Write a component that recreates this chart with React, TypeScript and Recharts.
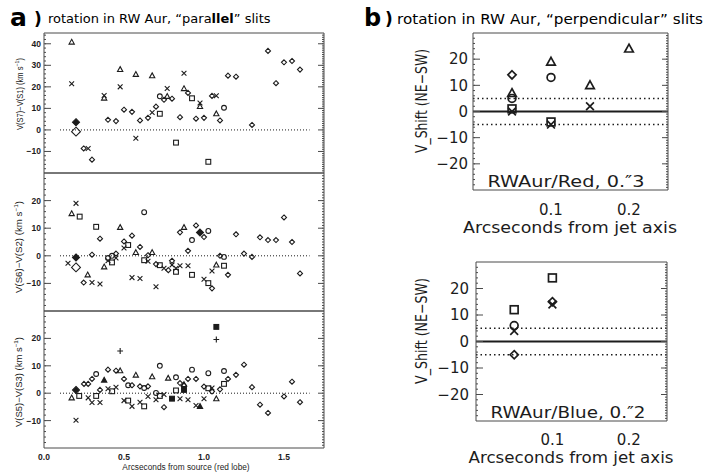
import React from 'react';
import { ScatterChart, Scatter, XAxis, YAxis, ReferenceLine } from 'recharts';

type Pt = [number, number];
type Kind = 'diamond' | 'triangle' | 'circle' | 'square' | 'cross' | 'plus' | 'diamondFill' | 'diamondBig' | 'triangleFill' | 'squareFill';

// ---- panel a, top: V(S7)-V(S1)
const p1Diamond: Pt[] = [[0.248, -8.6], [0.3, -13.8], [0.4, 4.7], [0.45, 4.1], [0.5, 9.4], [0.55, 8.4], [0.6, 4.4], [0.65, 5.6], [0.7, 10.8], [0.75, 14], [0.8, 14.5], [0.85, 5.9], [0.9, 17.2], [0.95, 5.2], [1.0, 5.6], [1.05, 15.8], [1.1, 4.4], [1.15, 25.2], [1.2, 24.7], [1.3, 2.3], [1.4, 36.7], [1.45, 21.7], [1.5, 31.4], [1.55, 32], [1.6, 28]];
const p1Triangle: Pt[] = [[0.173, 40.8], [0.376, 14.8], [0.476, 28.1], [0.574, 25.8], [0.676, 25.2], [0.77, 15.6], [0.875, 19.2], [0.975, 10.9], [1.077, 7.5]];
const p1Cross: Pt[] = [[0.173, 21.4], [0.276, -8.6], [0.376, 16], [0.476, 20], [0.574, -3.9], [0.676, 8.1], [0.77, 19.2], [0.875, 26.3], [0.975, 12.5], [1.077, 15.9]];
const p1Circle: Pt[] = [[0.724, 15.6], [1.125, 10.3]];
const p1Square: Pt[] = [[0.724, 7.5], [0.825, -5.9], [0.925, 14.7], [1.027, -14.8]];
const p1DiamondFill: Pt[] = [[0.2, 3.6]];
const p1DiamondBig: Pt[] = [[0.2, -0.8]];

// ---- panel a, middle: V(S6)-V(S2)
const p2Diamond: Pt[] = [[0.248, -9.7], [0.3, 0.4], [0.35, 6.2], [0.45, 0.8], [0.5, 5.2], [0.55, 7.3], [0.6, 3.2], [0.65, 0.2], [0.7, -3], [0.777, -5.2], [0.8, -1.8], [0.85, 8.5], [0.9, 1.8], [0.95, 11], [1.0, 6.8], [1.05, -11.8], [1.1, 0], [1.15, -6.9], [1.2, 7.8], [1.25, 0.8], [1.3, -0.4], [1.35, 6.7], [1.4, 5.7], [1.45, 5.7], [1.5, 13.9], [1.55, 5], [1.6, -6.4]];
const p2Triangle: Pt[] = [[0.173, 15.3], [0.273, -6.9], [0.376, -4], [0.476, 10.3], [0.574, 1.2], [0.676, 1.2], [0.875, 10.3], [1.077, -3.3]];
const p2Cross: Pt[] = [[0.15, -2.7], [0.2, 19], [0.3, -9.7], [0.35, -10.2], [0.4, -1.8], [0.45, -0.8], [0.5, 2.8], [0.55, -7.9], [0.6, -8.2], [0.65, -2], [0.7, -11.2], [0.75, -4.5], [0.8, -3.3], [0.825, -4.5], [0.85, -3.6], [0.9, -3.6], [1.0, -8.5], [1.05, -5.5]];
const p2Circle: Pt[] = [[0.4, -0.8], [0.425, 0], [0.626, 15.8], [0.925, 5.7], [1.027, 9], [1.125, -0.4]];
const p2Square: Pt[] = [[0.223, 14.2], [0.326, 10.5], [0.425, -2.4], [0.526, 3.9], [0.626, -1.6], [0.724, -3.4], [0.825, -5.8], [0.925, -6.9], [1.027, -9.9], [1.125, -3.6]];
const p2DiamondFill: Pt[] = [[0.2, -0.6], [0.975, 8.4]];
const p2DiamondBig: Pt[] = [[0.2, -4.2]];

// ---- panel a, bottom: V(S5)-V(S3)
const p3Diamond: Pt[] = [[0.25, 3.4], [0.276, 3.4], [0.3, 5.2], [0.35, 1.2], [0.4, 8.6], [0.45, 8.2], [0.5, 5.2], [0.55, 2.9], [0.6, 2.5], [0.65, 2.5], [0.75, -5.1], [0.85, 3.7], [0.875, 2.8], [0.9, 5.2], [0.95, 5.2], [1.0, 2.4], [1.05, 0.6], [1.1, 1.4], [1.15, 5.2], [1.2, 6.7], [1.25, 10.4], [1.3, 2.2], [1.35, -4.2], [1.4, -7.2], [1.5, -1.2], [1.55, 4.2], [1.6, -3.3]];
const p3Triangle: Pt[] = [[0.173, -1.7], [0.476, 8.2], [0.574, 6.6], [0.676, 6], [0.776, 5.5], [0.875, 3.2], [1.077, -2]];
const p3Cross: Pt[] = [[0.2, -9.9], [0.276, -1.7], [0.3, -3.4], [0.35, -3.4], [0.4, 1.6], [0.45, 2.2], [0.5, -2.7], [0.55, -4.8], [0.6, -3.3], [0.65, -1.2], [0.7, -2.4], [0.75, -0.5], [0.85, -2], [0.9, -2.4], [0.95, -4.5], [1.0, -2], [1.05, 1.9]];
const p3Circle: Pt[] = [[0.326, 7], [0.526, 2.9], [0.626, 1.9], [0.7, 0.1], [0.724, 10], [0.825, 5.8], [0.925, 8.6], [1.027, 7.3], [1.125, 8.1]];
const p3Square: Pt[] = [[0.22, -1], [0.326, -1], [0.426, 0.7], [0.526, -2.7], [0.626, -4.8], [0.724, -1], [0.825, 1], [1.027, 1.8], [1.125, 3.4]];
const p3Plus: Pt[] = [[0.476, 15.4], [1.077, 19.6]];
const p3DiamondFill: Pt[] = [[0.2, 1.2]];
const p3TriangleFill: Pt[] = [[0.376, 4.8], [0.975, -4.8]];
const p3SquareFill: Pt[] = [[0.8, -2], [0.875, 1.2], [1.077, 24.2]];

// ---- panel b, RWAur/Red
const redDiamond: Pt[] = [[0.05, 14]];
const redTriangle: Pt[] = [[0.05, 7], [0.1, 19], [0.15, 10], [0.2, 24]];
const redCircle: Pt[] = [[0.05, 5], [0.1, 13]];
const redSquare: Pt[] = [[0.05, 1], [0.1, -4]];
const redCross: Pt[] = [[0.05, 0], [0.1, -5], [0.15, 2]];

// ---- panel b, RWAur/Blue
const blueSquare: Pt[] = [[0.05, 12], [0.1, 24]];
const blueCircle: Pt[] = [[0.05, 6]];
const blueCross: Pt[] = [[0.05, 4], [0.1, 14]];
const blueDiamond: Pt[] = [[0.05, -5], [0.1, 15]];

// axis ranges / reference levels
const leftX: [number, number] = [0, 1.75];
const leftXLabels = [0, 0.5, 1.0, 1.5];
const p1Y: [number, number] = [-20, 45];
const p1YLabels = [-10, 0, 10, 20, 30, 40];
const p23Y: [number, number] = [-20, 30];
const p23YLabels = [-10, 0, 10, 20];
const zeroLineFrom = 0.1;
const zeroLineTo = 1.66;

const rightX: [number, number] = [0, 0.25];
const rightXLabels = [0.1, 0.2];
const rightY: [number, number] = [-30, 30];
const rightYLabels = [-20, -10, 0, 10, 20];
const noiseLevel = 5;

const INK = '#1c1c1c';
const FRAME = '#4a4a4a';
const LEFT_FONT = '"Liberation Sans", Arial, sans-serif';
const RIGHT_FONT = '"DejaVu Sans", sans-serif';

const range = (a: number, b: number, step: number) => {
  const out: number[] = [];
  for (let v = a; v <= b + 1e-9; v += step) out.push(+v.toFixed(4));
  return out;
};

const minus = (v: number) => (v < 0 ? `\u2212${-v}` : `${v}`);
const noLabel = () => <g />;

function marker(kind: Kind, cx: number, cy: number, r: number, sw: number) {
  const base = { stroke: INK, strokeWidth: sw, fill: 'none' };
  switch (kind) {
    case 'diamond':
    case 'diamondFill':
    case 'diamondBig': {
      const rr = kind === 'diamond' ? r * 1.05 : kind === 'diamondFill' ? r * 1.45 : r * 1.85;
      return (
        <path
          d={`M${cx} ${cy - rr}L${cx + rr} ${cy}L${cx} ${cy + rr}L${cx - rr} ${cy}Z`}
          {...base}
          fill={kind === 'diamondFill' ? INK : 'none'}
        />
      );
    }
    case 'triangle':
    case 'triangleFill':
      return (
        <path
          d={`M${cx} ${cy - r * 1.15}L${cx + r * 1.1} ${cy + r * 0.85}L${cx - r * 1.1} ${cy + r * 0.85}Z`}
          {...base}
          fill={kind === 'triangleFill' ? INK : 'none'}
        />
      );
    case 'circle':
      return <circle cx={cx} cy={cy} r={r} {...base} />;
    case 'square':
    case 'squareFill':
      return <rect x={cx - r} y={cy - r} width={2 * r} height={2 * r} {...base} fill={kind === 'squareFill' ? INK : 'none'} />;
    case 'cross':
      return <path d={`M${cx - r} ${cy - r}L${cx + r} ${cy + r}M${cx - r} ${cy + r}L${cx + r} ${cy - r}`} {...base} />;
    case 'plus':
      return <path d={`M${cx - r * 1.2} ${cy}L${cx + r * 1.2} ${cy}M${cx} ${cy - r * 1.2}L${cx} ${cy + r * 1.2}`} {...base} />;
  }
  return null;
}

interface RefSpec {
  y: number;
  from?: number;
  to?: number;
  dash?: string;
  width: number;
}

interface PanelProps {
  width: number;
  height: number;
  margin: { top: number; right: number; bottom: number; left: number };
  xDomain: [number, number];
  yDomain: [number, number];
  xLabels: number[] | null;
  yLabels: number[];
  xMinor: number[];
  xMajor: number[];
  xTop: number[];
  yMinor: number[];
  yMajor: number[];
  yRight: number[];
  yAxisWidth: number;
  xAxisHeight: number;
  xTickMargin: number;
  yTickMargin: number;
  tickFont: React.CSSProperties & { fontSize: number };
  r: number;
  sw: number;
  series: { kind: Kind; data: Pt[] }[];
  refs: RefSpec[];
}

function Panel(p: PanelProps) {
  const num = { type: 'number' as const, allowDataOverflow: true, interval: 0 as const };
  const line = { stroke: FRAME, strokeWidth: 1 };
  const tickStyle = { ...p.tickFont, fill: INK };
  return (
    <ScatterChart width={p.width} height={p.height} margin={p.margin}>
      <XAxis
        xAxisId="x"
        dataKey="x"
        {...num}
        domain={p.xDomain}
        ticks={p.xLabels ?? []}
        hide={!p.xLabels}
        height={p.xAxisHeight}
        tick={tickStyle}
        tickSize={0}
        tickMargin={p.xTickMargin}
        tickLine={false}
        axisLine={false}
        tickFormatter={(v: number) => v.toFixed(1)}
      />
      <XAxis xAxisId="xb" {...num} domain={p.xDomain} orientation="bottom" mirror height={1} ticks={p.xMinor} tick={noLabel} tickSize={3} axisLine={line} tickLine={line} />
      <XAxis xAxisId="xbM" {...num} domain={p.xDomain} orientation="bottom" mirror height={1} ticks={p.xMajor} tick={noLabel} tickSize={6} axisLine={false} tickLine={line} />
      <XAxis xAxisId="xt" {...num} domain={p.xDomain} orientation="top" mirror height={1} ticks={p.xTop} tick={noLabel} tickSize={3} axisLine={line} tickLine={line} />
      <YAxis
        yAxisId="y"
        dataKey="y"
        {...num}
        domain={p.yDomain}
        ticks={p.yLabels}
        width={p.yAxisWidth}
        tick={tickStyle}
        tickSize={0}
        tickMargin={p.yTickMargin}
        tickLine={false}
        axisLine={false}
        tickFormatter={minus}
      />
      <YAxis yAxisId="yl" {...num} domain={p.yDomain} orientation="left" mirror width={1} ticks={p.yMinor} tick={noLabel} tickSize={2} axisLine={line} tickLine={line} />
      <YAxis yAxisId="ylM" {...num} domain={p.yDomain} orientation="left" mirror width={1} ticks={p.yMajor} tick={noLabel} tickSize={6} axisLine={false} tickLine={line} />
      <YAxis yAxisId="yr" {...num} domain={p.yDomain} orientation="right" mirror width={1} ticks={p.yRight} tick={noLabel} tickSize={2} axisLine={line} tickLine={line} />
      <YAxis yAxisId="yrM" {...num} domain={p.yDomain} orientation="right" mirror width={1} ticks={p.yMajor} tick={noLabel} tickSize={5} axisLine={false} tickLine={line} />
      {p.refs.map((rf, i) =>
        rf.from !== undefined && rf.to !== undefined ? (
          <ReferenceLine
            key={`r${i}`}
            xAxisId="x"
            yAxisId="y"
            segment={[{ x: rf.from, y: rf.y }, { x: rf.to, y: rf.y }]}
            stroke={INK}
            strokeWidth={rf.width}
            strokeDasharray={rf.dash}
          />
        ) : (
          <ReferenceLine key={`r${i}`} xAxisId="x" yAxisId="y" y={rf.y} stroke={INK} strokeWidth={rf.width} strokeDasharray={rf.dash} />
        )
      )}
      {p.series.map((s, i) => (
        <Scatter
          key={`s${i}`}
          xAxisId="x"
          yAxisId="y"
          data={s.data.map(([x, y]) => ({ x, y }))}
          isAnimationActive={false}
          shape={(sp: any) => marker(s.kind, sp.cx, sp.cy, p.r, p.sw)}
        />
      ))}
    </ScatterChart>
  );
}

const leftCommon = {
  width: 340,
  margin: { top: 7, right: 16, bottom: 7, left: 0 },
  xDomain: leftX,
  xMinor: range(0.1, 1.7, 0.1),
  xMajor: [0.5, 1.0, 1.5],
  xTop: range(0.1, 1.7, 0.1),
  yAxisWidth: 44,
  xAxisHeight: 27,
  xTickMargin: 6,
  yTickMargin: 3,
  tickFont: { fontSize: 8.5, fontFamily: LEFT_FONT, fontWeight: 700 },
  r: 2.4,
  sw: 1.1,
};

const rightCommon = {
  width: 290,
  xDomain: rightX,
  yDomain: rightY,
  xLabels: rightXLabels,
  yLabels: rightYLabels,
  xMinor: range(0.01, 0.24, 0.01),
  xMajor: [0.1, 0.2],
  xTop: range(0.005, 0.245, 0.005),
  yMinor: range(-28, 28, 2),
  yMajor: range(-20, 20, 10),
  yRight: range(-29, 29, 1),
  xAxisHeight: 30,
  tickFont: { fontSize: 15, fontFamily: RIGHT_FONT },
  r: 3.9,
  sw: 1.7,
  refs: [
    { y: 0, width: 2 },
    { y: noiseLevel, width: 1.5, dash: '1.5 3' },
    { y: -noiseLevel, width: 1.5, dash: '1.5 3' },
  ],
};

const leftRefs: RefSpec[] = [{ y: 0, from: zeroLineFrom, to: zeroLineTo, width: 1, dash: '1 2' }];

const abs = (left: number, top: number): React.CSSProperties => ({ position: 'absolute', left, top });

function VLabel({ x, y, len, size, children }: { x: number; y: number; len: number; size: number; children: React.ReactNode }) {
  return (
    <text
      x={x}
      y={y}
      transform={`rotate(-90 ${x} ${y})`}
      textAnchor="middle"
      dominantBaseline="central"
      fontSize={size}
      fontFamily={LEFT_FONT}
      fill={INK}
      textLength={len}
      lengthAdjust="spacingAndGlyphs"
    >
      {children}
    </text>
  );
}

export default function App() {
  return (
    <div style={{ position: 'absolute', left: 0, top: 0, width: 706, height: 475, background: '#fff', overflow: 'hidden' }}>
      <div style={abs(0, 0)}>
        <Panel
          {...leftCommon}
          height={180}
          margin={{ top: 33, right: 16, bottom: 7, left: 0 }}
          yDomain={p1Y}
          xLabels={null}
          yLabels={p1YLabels}
          yMinor={range(-18, 44, 2)}
          yMajor={range(-10, 40, 10)}
          yRight={range(-19, 44, 1)}
          refs={leftRefs}
          series={[
            { kind: 'diamond', data: p1Diamond },
            { kind: 'triangle', data: p1Triangle },
            { kind: 'cross', data: p1Cross },
            { kind: 'circle', data: p1Circle },
            { kind: 'square', data: p1Square },
            { kind: 'diamondFill', data: p1DiamondFill },
            { kind: 'diamondBig', data: p1DiamondBig },
          ]}
        />
      </div>
      <div style={abs(0, 166)}>
        <Panel
          {...leftCommon}
          height={152}
          yDomain={p23Y}
          xLabels={null}
          yLabels={p23YLabels}
          yMinor={range(-18, 28, 2)}
          yMajor={range(-10, 20, 10)}
          yRight={range(-19, 29, 1)}
          refs={leftRefs}
          series={[
            { kind: 'diamond', data: p2Diamond },
            { kind: 'triangle', data: p2Triangle },
            { kind: 'cross', data: p2Cross },
            { kind: 'circle', data: p2Circle },
            { kind: 'square', data: p2Square },
            { kind: 'diamondFill', data: p2DiamondFill },
            { kind: 'diamondBig', data: p2DiamondBig },
          ]}
        />
      </div>
      <div style={abs(0, 304)}>
        <Panel
          {...leftCommon}
          height={171}
          margin={{ top: 7, right: 16, bottom: 0, left: 0 }}
          yDomain={p23Y}
          xLabels={leftXLabels}
          yLabels={p23YLabels}
          yMinor={range(-18, 28, 2)}
          yMajor={range(-10, 20, 10)}
          yRight={range(-19, 29, 1)}
          refs={leftRefs}
          series={[
            { kind: 'diamond', data: p3Diamond },
            { kind: 'triangle', data: p3Triangle },
            { kind: 'cross', data: p3Cross },
            { kind: 'circle', data: p3Circle },
            { kind: 'square', data: p3Square },
            { kind: 'plus', data: p3Plus },
            { kind: 'diamondFill', data: p3DiamondFill },
            { kind: 'triangleFill', data: p3TriangleFill },
            { kind: 'squareFill', data: p3SquareFill },
          ]}
        />
      </div>
      <div style={abs(400, 20)}>
        <Panel
          {...rightCommon}
          height={200}
          margin={{ top: 13, right: 22, bottom: 0, left: 0 }}
          yAxisWidth={73}
          xTickMargin={14}
          yTickMargin={5}
          series={[
            { kind: 'diamond', data: redDiamond },
            { kind: 'triangle', data: redTriangle },
            { kind: 'circle', data: redCircle },
            { kind: 'square', data: redSquare },
            { kind: 'cross', data: redCross },
          ]}
        />
      </div>
      <div style={abs(400, 250)}>
        <Panel
          {...rightCommon}
          height={201}
          margin={{ top: 12, right: 23, bottom: 0, left: 0 }}
          yAxisWidth={76}
          xTickMargin={13}
          yTickMargin={7}
          series={[
            { kind: 'square', data: blueSquare },
            { kind: 'circle', data: blueCircle },
            { kind: 'cross', data: blueCross },
            { kind: 'diamond', data: blueDiamond },
          ]}
        />
      </div>

      <svg width={706} height={475} style={{ position: 'absolute', left: 0, top: 0, pointerEvents: 'none' }}>
        {/* titles */}
        <text x={10} y={26} fontSize={25} fontWeight={700} fontFamily={RIGHT_FONT} fill="#000">a</text>
        <text x={34} y={25} fontSize={17} fontWeight={700} fontFamily={RIGHT_FONT} fill="#000">)</text>
        <text x={48} y={23} fontSize={13} fontFamily={RIGHT_FONT} fill="#000">
          rotation in RW Aur, {'\u201C'}para<tspan fontWeight={700}>llel</tspan>{'\u201D'} slits
        </text>
        <text x={364} y={26} fontSize={24} fontWeight={700} fontFamily={RIGHT_FONT} fill="#000">b</text>
        <text x={385} y={25} fontSize={17} fontWeight={700} fontFamily={RIGHT_FONT} fill="#000">)</text>
        <text x={397} y={24} fontSize={13.5} fontFamily={RIGHT_FONT} fill="#000" textLength={306} lengthAdjust="spacingAndGlyphs">
          rotation in RW Aur, {'\u201C'}perpendicular{'\u201D'} slits
        </text>

        {/* left panel axis titles */}
        <VLabel x={20} y={94} len={72} size={8.5}>
          V(S7){'\u2212'}V(S1) (km s<tspan dy={-3} fontSize={6}>{'\u22121'}</tspan><tspan dy={3}>)</tspan>
        </VLabel>
        <VLabel x={19} y={247} len={92} size={9}>
          V(S6){'\u2212'}V(S2) (km s<tspan dy={-3} fontSize={6}>{'\u22121'}</tspan><tspan dy={3}>)</tspan>
        </VLabel>
        <VLabel x={19} y={382} len={90} size={9}>
          V(S5){'\u2212'}V(S3) (km s<tspan dy={-3} fontSize={6}>{'\u22121'}</tspan><tspan dy={3}>)</tspan>
        </VLabel>
        <text x={186} y={470} textAnchor="middle" fontSize={8.3} fontFamily={LEFT_FONT} fill={INK}>
          Arcseconds from source (red lobe)
        </text>

        {/* right panel texts */}
        <text x={422} y={101} transform="rotate(-90 422 101)" textAnchor="middle" dominantBaseline="central" fontSize={15} fontFamily={RIGHT_FONT} fill={INK} textLength={104} lengthAdjust="spacingAndGlyphs">
          V_Shift (NE{'\u2212'}SW)
        </text>
        <text x={570} y={233} textAnchor="middle" fontSize={16} fontFamily={RIGHT_FONT} fill={INK} textLength={214} lengthAdjust="spacingAndGlyphs">
          Arcseconds from jet axis
        </text>
        <text x={566} y={187} textAnchor="middle" fontSize={16} fontFamily={RIGHT_FONT} fill={INK} textLength={157} lengthAdjust="spacingAndGlyphs">
          RWAur/Red, 0.{'\u2033'}3
        </text>

        <text x={422} y={331} transform="rotate(-90 422 331)" textAnchor="middle" dominantBaseline="central" fontSize={15} fontFamily={RIGHT_FONT} fill={INK} textLength={106} lengthAdjust="spacingAndGlyphs">
          V_Shift (NE{'\u2212'}SW)
        </text>
        <text x={571} y={463} textAnchor="middle" fontSize={16} fontFamily={RIGHT_FONT} fill={INK} textLength={205} lengthAdjust="spacingAndGlyphs">
          Arcseconds from jet axis
        </text>
        <text x={568} y={418} textAnchor="middle" fontSize={16} fontFamily={RIGHT_FONT} fill={INK} textLength={155} lengthAdjust="spacingAndGlyphs">
          RWAur/Blue, 0.{'\u2033'}2
        </text>
      </svg>
    </div>
  );
}
